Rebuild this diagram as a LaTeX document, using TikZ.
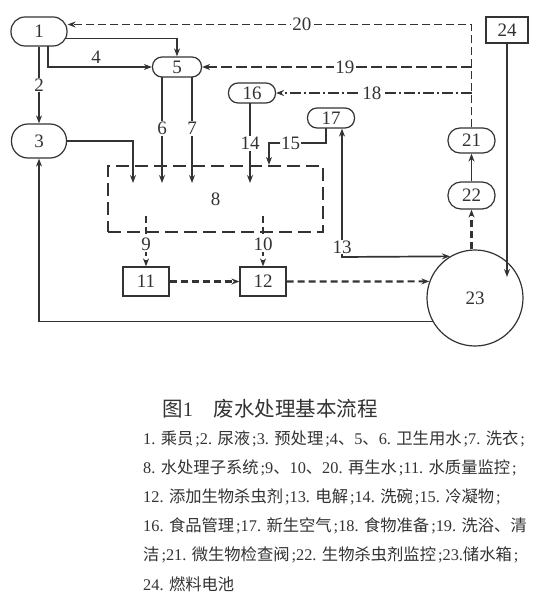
\documentclass[tikz,border=0pt]{standalone}
\usepackage{fontspec}
\setmainfont{Liberation Serif}
\newfontfamily\cjk{Noto Sans CJK SC}
\newcommand\myzh[1]{{\cjk #1}}
\newcommand\sm{\hspace{2pt};}
\usetikzlibrary{arrows.meta,backgrounds,calc}
\definecolor{ink}{HTML}{333333}
\begin{document}
\begin{tikzpicture}[x=1pt,y=-1pt,
  every node/.style={font=\fontsize{19}{19}\selectfont,text=ink},
  stad/.style n args={3}{draw=ink,line width=1.2pt,fill=white,rounded corners=#3pt,minimum width=#1pt,minimum height=#2pt,inner sep=0pt},
  rbox/.style n args={2}{draw=ink,line width=1.2pt,fill=white,minimum width=#1pt,minimum height=#2pt,inner sep=0pt},
  tip/.style={-{Stealth[length=8pt,width=6pt]}},
  flow/.style={draw=ink,line width=1.7pt,tip},
  dflow/.style={draw=ink,line width=2.2pt,tip,dash pattern=on 7pt off 4pt},
  ln20/.style={draw=ink,line width=1.9pt,tip,dash pattern=on 8pt off 4pt},
  ln19/.style={draw=ink,line width=1.9pt,tip,dash pattern=on 11pt off 4pt},
  ln18/.style={draw=ink,line width=1.9pt,tip,dash pattern=on 11pt off 3pt on 2pt off 3pt},
  lbl/.style={fill=white,inner sep=1pt},
  legend/.style={anchor=west,inner sep=0pt,font=\fontsize{16.3}{16.3}\selectfont}
]
\useasboundingbox (0,0) rectangle (550,609);

% nodes
\node[stad={56}{29}{14}] (n1) at (39,31.5) {1};
\node[stad={49}{20}{9.5}] (n5) at (177,67) {5};
\node[stad={55}{34}{16.5}] (n3) at (39,141) {3};
\node[stad={47}{20}{9.5}] (n16) at (252,93) {16};
\node[stad={47}{20}{9.5}] (n17) at (331,118) {17};
\node[stad={47}{25}{12}] (n21) at (471.5,140.5) {21};
\node[stad={47}{27}{13}] (n22) at (471.5,195.5) {22};
\node[rbox={42}{26}] (n24) at (507,30) {24};
\node[draw=ink,circle,line width=1.2pt,minimum size=96pt,inner sep=0pt] (n23) at (475,298) {23};
\node[rbox={46}{29}] (n11) at (146,281.5) {11};
\node[rbox={46}{29}] (n12) at (263,281.5) {12};
\node[draw=ink,line width=2.2pt,dash pattern=on 13pt off 6pt,minimum width=215pt,minimum height=66pt,inner sep=0pt] (b8) at (215.5,199) {8};

\coordinate (e3) at (133,183);
\coordinate (e14) at (250,183);
\coordinate (c15a) at (326,143);
\coordinate (c15b) at (269,143);
\coordinate (c13) at (342,257);
\coordinate (t24) at (507,277);
\coordinate (s9) at (146,216);
\coordinate (s10) at (263,216);

\begin{pgfonlayer}{background}
\fill[white] (0,0) rectangle (550,609);
% 1 -> 5 (top)
\draw[flow] ([yshift=-7pt]n1.center) -| (n5.north);
% 4
\draw[flow] ([xshift=9pt]n1.center) |- (n5.west);
\node at (96,57) {4};
% 2
\draw[flow] (n1.south) -- node[lbl,pos=0.5]{2} (n3.north);
% 3 -> 8
\draw[flow] (n3.center) -| (e3);
% 6, 7
\draw[flow] ([xshift=-15pt]n5.center) -- node[lbl,pos=0.53]{6} ([xshift=-15pt]n5.center |- e3);
\draw[flow] ([xshift=15pt]n5.center) -- node[lbl,pos=0.53]{7} ([xshift=15pt]n5.center |- e3);
% 14
\draw[flow] (n16.center -| e14) -- node[lbl,pos=0.56]{14} (e14);
% 15
\draw[flow] (n17.center -| c15a) -- (c15a) -- node[lbl,pos=0.62]{15} (c15b) -- (c15b |- b8.north);
% 13
\draw[draw=ink,line width=1.7pt,{Stealth[length=8pt,width=6pt]}-{Stealth[length=8pt,width=6pt]}] (n17.south -| c13) -- (c13) -- (n23.121);
\node[lbl] at (342,247) {13};
% 9, 10
\draw[dflow] (s9) -- node[lbl,pos=0.57]{9} (n11.north);
\draw[dflow] (s10) -- node[lbl,pos=0.57]{10} (n12.north);
% 11 -> 12 -> 23
\draw[dflow] (n11.east) -- (n12.west);
\draw[dflow] (n12.east) -- (n23.160);
% 23 -> 3
\draw[flow] (n23.209) -| (n3.south);
% 24 -> 23
\draw[flow] (n24.south) -- (t24);
% 23 -> 22 -> 21
\draw[dflow] (n22.south |- n23.north) -- (n22.south);
\draw[flow] (n22.north) -- (n21.south);
% 20
\draw[ln20] (n21.north) |- node[lbl,pos=0.71]{20} ([yshift=7pt]n1.east);
% 19
\draw[ln19] (n21.north |- n5.east) -- node[lbl,pos=0.47]{19} (n5.east);
% 18
\draw[ln18] (n21.north |- n16.east) -- node[lbl,pos=0.51]{18} (n16.east);
\end{pgfonlayer}

% caption and legend
\node[font=\fontsize{20.5}{20.5}\selectfont] (cap) at (270,409) {\myzh{图}1\hspace{1em}\myzh{废水处理基本流程}};
\node[legend] (l1) at (143,439) {1. \myzh{乘员}\sm 2. \myzh{尿液}\sm 3. \myzh{预处理}\sm 4\myzh{、}5\myzh{、}6. \myzh{卫生用水}\sm 7. \myzh{洗衣}\sm};
\node[legend] (l2) at (143,468) {8. \myzh{水处理子系统}\sm 9\myzh{、}10\myzh{、}20. \myzh{再生水}\sm 11. \myzh{水质量监控}\sm};
\node[legend] (l3) at (143,497) {12. \myzh{添加生物杀虫剂}\sm 13. \myzh{电解}\sm 14. \myzh{洗碗}\sm 15. \myzh{冷凝物}\sm};
\node[legend] (l4) at (143,526) {16. \myzh{食品管理}\sm 17. \myzh{新生空气}\sm 18. \myzh{食物准备}\sm 19. \myzh{洗浴、清}};
\node[legend] (l5) at (143,555) {\myzh{洁}\sm 21. \myzh{微生物检查阀}\sm 22. \myzh{生物杀虫剂监控}\sm 23.\myzh{储水箱}\sm};
\node[legend] (l6) at (143,584) {24. \myzh{燃料电池}};
\end{tikzpicture}
\end{document}
